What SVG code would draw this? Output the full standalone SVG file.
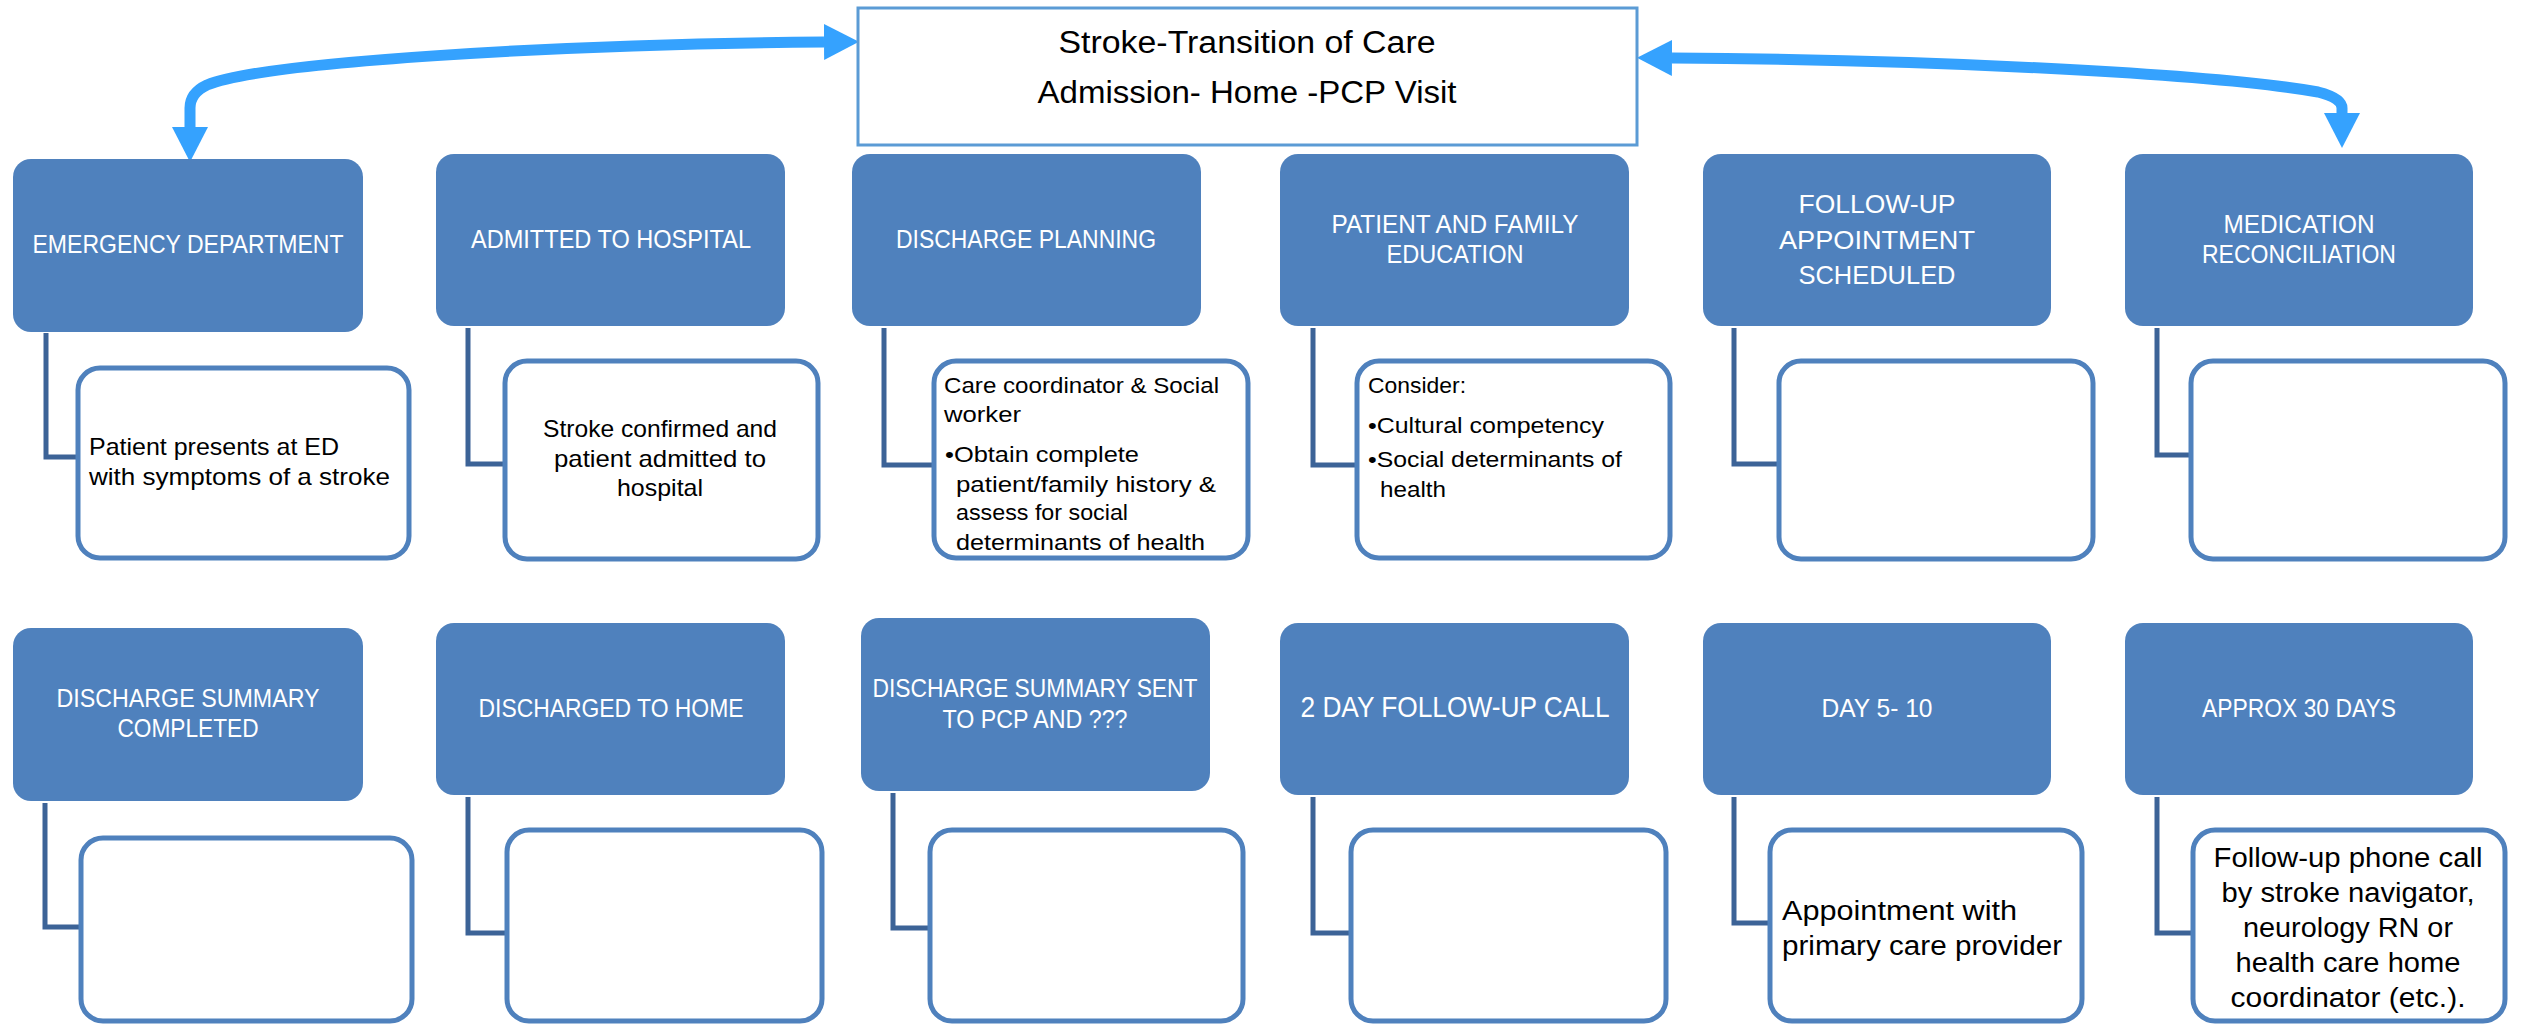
<svg xmlns="http://www.w3.org/2000/svg" width="2521" height="1026" viewBox="0 0 2521 1026">
<defs>
<style>
.hdr{fill:#4F81BD;}
.child{fill:#FFFFFF;stroke:#4F81BD;stroke-width:5;}
.ht{font-family:"Liberation Sans",Arial,sans-serif;font-size:26px;fill:#FFFFFF;text-anchor:middle;}
.bt{font-family:"Liberation Sans",Arial,sans-serif;font-size:24px;fill:#000000;}
.bs{font-family:"Liberation Sans",Arial,sans-serif;font-size:22px;fill:#000000;}
.bl{font-family:"Liberation Sans",Arial,sans-serif;font-size:27px;fill:#000000;}
.mid{text-anchor:middle;}
.tt{font-family:"Liberation Sans",Arial,sans-serif;font-size:31px;fill:#000000;text-anchor:middle;}
.elbow{fill:none;stroke:#3C6397;stroke-width:5;stroke-linejoin:miter;}
.arrow{fill:none;stroke:#35A2FE;stroke-width:11;}
</style>
<marker id="ah" markerUnits="userSpaceOnUse" markerWidth="35" markerHeight="36" viewBox="0 0 35 36" refX="0" refY="18" orient="auto-start-reverse">
<path d="M0,0 L35,18 L0,36 Z" fill="#35A2FE"/>
</marker>
</defs>
<rect width="2521" height="1026" fill="#FFFFFF"/>

<g id="connectors">
<path class="arrow" marker-start="url(#ah)" marker-end="url(#ah)" d="M824,42 C560,44 262,62 207,85 Q190,93 190,108 L190,127"/>
<path class="arrow" marker-start="url(#ah)" marker-end="url(#ah)" d="M1672,58 C1950,60 2215,74 2318,92 Q2342,98 2342,108 L2342,113"/>
<path class="elbow" d="M46,333 V457 H78"/>
<path class="elbow" d="M468,328 V464 H505"/>
<path class="elbow" d="M884,328 V465 H934"/>
<path class="elbow" d="M1313,328 V465 H1357"/>
<path class="elbow" d="M1734,328 V464 H1779"/>
<path class="elbow" d="M2157,328 V455 H2191"/>
<path class="elbow" d="M45,803 V927 H81"/>
<path class="elbow" d="M468,797 V933 H507"/>
<path class="elbow" d="M893,793 V928 H930"/>
<path class="elbow" d="M1313,797 V933 H1351"/>
<path class="elbow" d="M1734,797 V923 H1770"/>
<path class="elbow" d="M2157,797 V933 H2193"/>
</g>

<g id="title">
<rect x="858" y="8" width="779" height="137" fill="#FFFFFF" stroke="#5B9BD5" stroke-width="3"/>
<text class="tt" x="1247" y="53" textLength="377" lengthAdjust="spacingAndGlyphs">Stroke-Transition of Care</text>
<text class="tt" x="1247" y="103" textLength="419" lengthAdjust="spacingAndGlyphs">Admission- Home -PCP Visit</text>
</g>

<g id="emergency-department">
<rect class="hdr" x="13" y="159" width="350" height="173" rx="18"/>
<text class="ht" x="188" y="253" textLength="311" lengthAdjust="spacingAndGlyphs">EMERGENCY DEPARTMENT</text>
</g>
<g id="ed-detail">
<rect class="child" x="78" y="368" width="331" height="190" rx="22"/>
<text class="bt" x="89" y="455" textLength="250" lengthAdjust="spacingAndGlyphs">Patient presents at ED</text>
<text class="bt" x="89" y="485" textLength="301" lengthAdjust="spacingAndGlyphs">with symptoms of a stroke</text>
</g>

<g id="admitted-to-hospital">
<rect class="hdr" x="436" y="154" width="349" height="172" rx="18"/>
<text class="ht" x="611" y="248" textLength="280" lengthAdjust="spacingAndGlyphs">ADMITTED TO HOSPITAL</text>
</g>
<g id="admitted-detail">
<rect class="child" x="505" y="361" width="313" height="198" rx="22"/>
<text class="bt mid" x="660" y="437" textLength="234" lengthAdjust="spacingAndGlyphs">Stroke confirmed and</text>
<text class="bt mid" x="660" y="467" textLength="212" lengthAdjust="spacingAndGlyphs">patient admitted to</text>
<text class="bt mid" x="660" y="496" textLength="86" lengthAdjust="spacingAndGlyphs">hospital</text>
</g>

<g id="discharge-planning">
<rect class="hdr" x="852" y="154" width="349" height="172" rx="18"/>
<text class="ht" x="1026" y="248" textLength="260" lengthAdjust="spacingAndGlyphs">DISCHARGE PLANNING</text>
</g>
<g id="discharge-planning-detail">
<rect class="child" x="934" y="361" width="314" height="197" rx="22"/>
<text class="bs" x="944" y="393" textLength="275" lengthAdjust="spacingAndGlyphs">Care coordinator &amp; Social</text>
<text class="bs" x="944" y="422" textLength="77" lengthAdjust="spacingAndGlyphs">worker</text>
<text class="bs" x="945" y="462" textLength="194" lengthAdjust="spacingAndGlyphs">•Obtain complete</text>
<text class="bs" x="956" y="492" textLength="260" lengthAdjust="spacingAndGlyphs">patient/family history &amp;</text>
<text class="bs" x="956" y="520" textLength="172" lengthAdjust="spacingAndGlyphs">assess for social</text>
<text class="bs" x="956" y="550" textLength="249" lengthAdjust="spacingAndGlyphs">determinants of health</text>
</g>

<g id="patient-family-education">
<rect class="hdr" x="1280" y="154" width="349" height="172" rx="18"/>
<text class="ht" x="1455" y="233" textLength="247" lengthAdjust="spacingAndGlyphs">PATIENT AND FAMILY</text>
<text class="ht" x="1455" y="263" textLength="137" lengthAdjust="spacingAndGlyphs">EDUCATION</text>
</g>
<g id="education-detail">
<rect class="child" x="1357" y="361" width="313" height="197" rx="22"/>
<text class="bs" x="1368" y="393" textLength="98" lengthAdjust="spacingAndGlyphs">Consider:</text>
<text class="bs" x="1368" y="433" textLength="236" lengthAdjust="spacingAndGlyphs">•Cultural competency</text>
<text class="bs" x="1368" y="467" textLength="254" lengthAdjust="spacingAndGlyphs">•Social determinants of</text>
<text class="bs" x="1380" y="497" textLength="66" lengthAdjust="spacingAndGlyphs">health</text>
</g>

<g id="follow-up-appointment">
<rect class="hdr" x="1703" y="154" width="348" height="172" rx="18"/>
<text class="ht" x="1877" y="213" textLength="157" lengthAdjust="spacingAndGlyphs">FOLLOW-UP</text>
<text class="ht" x="1877" y="249" textLength="196" lengthAdjust="spacingAndGlyphs">APPOINTMENT</text>
<text class="ht" x="1877" y="284" textLength="157" lengthAdjust="spacingAndGlyphs">SCHEDULED</text>
</g>
<g id="follow-up-detail">
<rect class="child" x="1779" y="361" width="314" height="198" rx="22"/>
</g>

<g id="medication-reconciliation">
<rect class="hdr" x="2125" y="154" width="348" height="172" rx="18"/>
<text class="ht" x="2299" y="233" textLength="151" lengthAdjust="spacingAndGlyphs">MEDICATION</text>
<text class="ht" x="2299" y="263" textLength="194" lengthAdjust="spacingAndGlyphs">RECONCILIATION</text>
</g>
<g id="medication-detail">
<rect class="child" x="2191" y="361" width="314" height="198" rx="22"/>
</g>

<g id="discharge-summary-completed">
<rect class="hdr" x="13" y="628" width="350" height="173" rx="18"/>
<text class="ht" x="188" y="707" textLength="263" lengthAdjust="spacingAndGlyphs">DISCHARGE SUMMARY</text>
<text class="ht" x="188" y="737" textLength="141" lengthAdjust="spacingAndGlyphs">COMPLETED</text>
</g>
<g id="summary-completed-detail">
<rect class="child" x="81" y="838" width="331" height="183" rx="22"/>
</g>

<g id="discharged-to-home">
<rect class="hdr" x="436" y="623" width="349" height="172" rx="18"/>
<text class="ht" x="611" y="717" textLength="265" lengthAdjust="spacingAndGlyphs">DISCHARGED TO HOME</text>
</g>
<g id="discharged-home-detail">
<rect class="child" x="507" y="830" width="315" height="191" rx="22"/>
</g>

<g id="discharge-summary-sent">
<rect class="hdr" x="861" y="618" width="349" height="173" rx="18"/>
<text class="ht" x="1035" y="697" textLength="325" lengthAdjust="spacingAndGlyphs">DISCHARGE SUMMARY SENT</text>
<text class="ht" x="1035" y="728" textLength="185" lengthAdjust="spacingAndGlyphs">TO PCP AND ???</text>
</g>
<g id="summary-sent-detail">
<rect class="child" x="930" y="830" width="313" height="191" rx="22"/>
</g>

<g id="two-day-call">
<rect class="hdr" x="1280" y="623" width="349" height="172" rx="18"/>
<text class="ht" x="1455" y="717" style="font-size:30px" textLength="309" lengthAdjust="spacingAndGlyphs">2 DAY FOLLOW-UP CALL</text>
</g>
<g id="two-day-detail">
<rect class="child" x="1351" y="830" width="315" height="191" rx="22"/>
</g>

<g id="day-5-10">
<rect class="hdr" x="1703" y="623" width="348" height="172" rx="18"/>
<text class="ht" x="1877" y="717" textLength="111" lengthAdjust="spacingAndGlyphs">DAY 5- 10</text>
</g>
<g id="day-5-10-detail">
<rect class="child" x="1770" y="830" width="312" height="191" rx="22"/>
<text class="bl" x="1782" y="920" textLength="235" lengthAdjust="spacingAndGlyphs">Appointment with</text>
<text class="bl" x="1782" y="955" textLength="280" lengthAdjust="spacingAndGlyphs">primary care provider</text>
</g>

<g id="approx-30-days">
<rect class="hdr" x="2125" y="623" width="348" height="172" rx="18"/>
<text class="ht" x="2299" y="717" textLength="194" lengthAdjust="spacingAndGlyphs">APPROX 30 DAYS</text>
</g>
<g id="approx-30-detail">
<rect class="child" x="2193" y="830" width="312" height="191" rx="22"/>
<text class="bl mid" x="2348" y="867" textLength="269" lengthAdjust="spacingAndGlyphs">Follow-up phone call</text>
<text class="bl mid" x="2348" y="902" textLength="253" lengthAdjust="spacingAndGlyphs">by stroke navigator,</text>
<text class="bl mid" x="2348" y="937" textLength="210" lengthAdjust="spacingAndGlyphs">neurology RN or</text>
<text class="bl mid" x="2348" y="972" textLength="225" lengthAdjust="spacingAndGlyphs">health care home</text>
<text class="bl mid" x="2348" y="1007" textLength="235" lengthAdjust="spacingAndGlyphs">coordinator (etc.).</text>
</g>
</svg>
